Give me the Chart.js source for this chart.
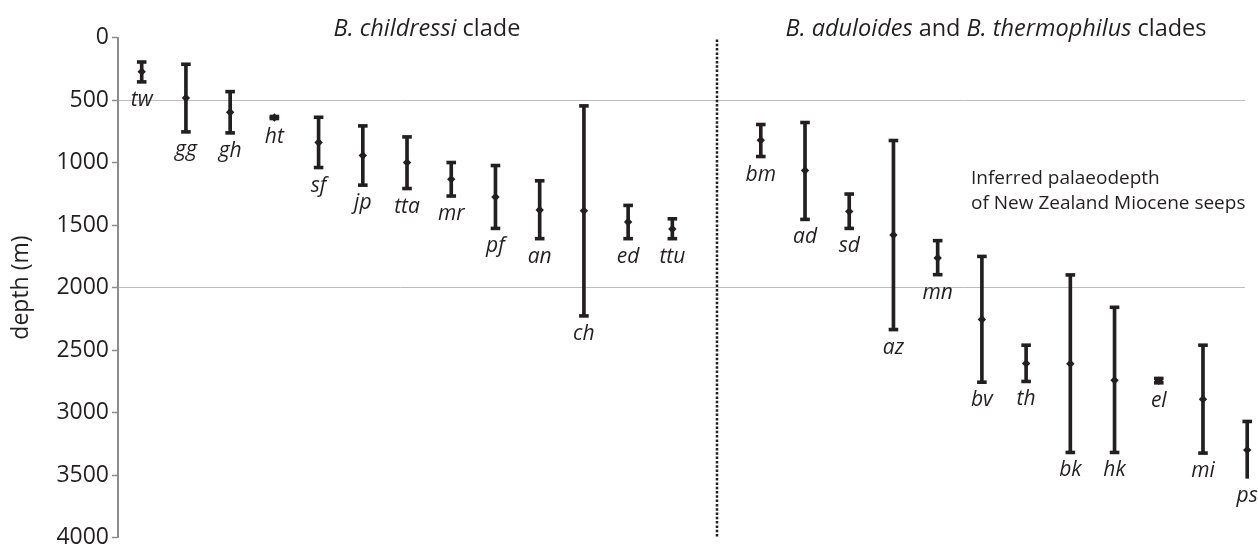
<!DOCTYPE html>
<html><head><meta charset="utf-8">
<script src="https://cdn.jsdelivr.net/npm/chart.js@4.4.1/dist/chart.umd.min.js"></script>
<style>html,body{margin:0;padding:0;background:#fff;} canvas{display:block;}</style>
</head><body>
<canvas id="c" width="1258" height="546"></canvas>
<script>
// ---- data ----
const sites = ['tw','gg','gh','ht','sf','jp','tta','mr','pf','an','ch','ed','ttu',
               'bm','ad','sd','az','mn','bv','th','bk','hk','el','mi','ps'];
const sitePos = [0,1,2,3,4,5,6,7,8,9,10,11,12,
                 14,15,16,17,18,19,20,21,22,23,24,25];
const midDepth = [273,483,598,640,840,944,1000,1133,1276,1380,1386,1476,1532,
                  821,1064,1391,1580,1764,2256,2608,2610,2741,2745,2893,3300];
const shallowDepth = [196,214,433,632,638,707,795,1000,1024,1146,547,1343,1450,
                      696,680,1252,824,1625,1751,2461,1899,2158,2727,2461,3071];
const deepDepth = [355,755,763,648,1040,1181,1208,1268,1527,1609,2227,1609,1609,
                   952,1455,1527,2336,1897,2757,2751,3319,3319,2762,3324,3526];
const yTickValues = [0,500,1000,1500,2000,2500,3000,3500,4000];
const yTickLabels = ['0','500','1000','1500','2000','2500','3000','3500','4000'];
const gridDepths = [500,2000];
const dividerPos = 13;
const leftTitle = [['B. childressi', true], [' clade', false]];
const rightTitle = [['B. aduloides', true], [' and ', false], ['B. thermophilus', true], [' clades', false]];
const noteLines = ['Inferred palaeodepth', 'of New Zealand Miocene seeps'];

const INK = '#231f20';
const FONT = "'Open Sans'";

function drawMixed(ctx, parts, cx, baseline, size) {
  let total = 0;
  const widths = parts.map(([t, it]) => {
    ctx.font = (it ? 'italic ' : '') + size + 'px ' + FONT;
    const w = ctx.measureText(t).width; total += w; return w;
  });
  let x = cx - total / 2;
  parts.forEach(([t, it], i) => {
    ctx.font = (it ? 'italic ' : '') + size + 'px ' + FONT;
    ctx.fillText(t, x, baseline); x += widths[i];
  });
}

const overlay = {
  id: 'overlay',
  afterDatasetsDraw(chart) {
    const {ctx, scales: {x, y}, chartArea} = chart;
    ctx.save();
    // divider
    ctx.strokeStyle = INK; ctx.lineWidth = 2.5; ctx.setLineDash([2.5, 1.8]);
    const dx = Math.round(x.getPixelForValue(dividerPos));
    ctx.beginPath(); ctx.moveTo(dx, chartArea.top + 2); ctx.lineTo(dx, chartArea.bottom); ctx.stroke();
    ctx.setLineDash([]);
    // site labels
    ctx.fillStyle = INK; ctx.textAlign = 'center'; ctx.textBaseline = 'alphabetic';
    ctx.font = 'italic 21px ' + FONT;
    sites.forEach((s, i) => {
      ctx.fillText(s, x.getPixelForValue(sitePos[i]), y.getPixelForValue(deepDepth[i]) + 24);
    });
    // titles
    ctx.textAlign = 'left';
    drawMixed(ctx, leftTitle, 427, 36, 23.5);
    drawMixed(ctx, rightTitle, 996, 36, 23.5);
    // note
    ctx.font = '19px ' + FONT;
    ctx.fillText(noteLines[0], 971, 184);
    ctx.fillText(noteLines[1], 971, 209);
    ctx.restore();
  }
};

const caps = [];
sitePos.forEach((p, i) => { caps.push({x: p, y: shallowDepth[i]}); caps.push({x: p, y: deepDepth[i]}); });

new Chart(document.getElementById('c'), {
  type: 'scatter',
  data: {
    datasets: [
      {
        type: 'bar',
        data: sitePos.map((p, i) => ({x: p, y: [shallowDepth[i], deepDepth[i]]})),
        backgroundColor: INK, borderWidth: 0, barThickness: 3, clip: false, order: 3
      },
      {
        type: 'scatter',
        data: caps,
        pointStyle: 'line', pointRadius: 4.8, pointBorderWidth: 3.6,
        pointBorderColor: INK, borderColor: INK, clip: false, order: 2
      },
      {
        type: 'scatter',
        data: sitePos.map((p, i) => ({x: p, y: midDepth[i]})),
        pointStyle: 'rectRot', pointRadius: 4.2, pointBorderWidth: 0,
        pointBackgroundColor: INK, backgroundColor: INK, clip: false, order: 1
      }
    ]
  },
  options: {
    responsive: false,
    devicePixelRatio: 1,
    animation: false,
    events: [],
    layout: {padding: {left: 0, right: 13, top: 37.5, bottom: 7.7}},
    plugins: {legend: {display: false}, tooltip: {enabled: false}, title: {display: false}},
    scales: {
      x: {type: 'linear', min: -0.536, max: 24.95, offset: false, display: false},
      y: {
        type: 'linear', reverse: true, min: 0, max: 4000,
        afterBuildTicks(scale) { scale.ticks = yTickValues.map(v => ({value: v})); },
        afterFit(scale) { scale.width = 118; scale.paddingTop = 0; scale.paddingBottom = 0; },
        ticks: {
          color: INK, font: {family: FONT, size: 23}, padding: 3,
          callback: (v) => { const k = yTickValues.indexOf(v); return k >= 0 ? yTickLabels[k] : ''; }
        },
        grid: {
          color: ctx => gridDepths.includes(ctx.tick && ctx.tick.value) ? '#bdbdbd' : 'rgba(0,0,0,0)',
          lineWidth: 1,
          tickColor: '#8c8c8c', tickLength: 6, tickWidth: 1.5, drawTicks: true
        },
        border: {display: true, color: '#8c8c8c', width: 2},
        title: {display: true, text: 'depth (m)', color: INK, font: {family: FONT, size: 23}, padding: {top: 8, bottom: 0}}
      }
    }
  },
  plugins: [overlay]
});
</script>
</body></html>
